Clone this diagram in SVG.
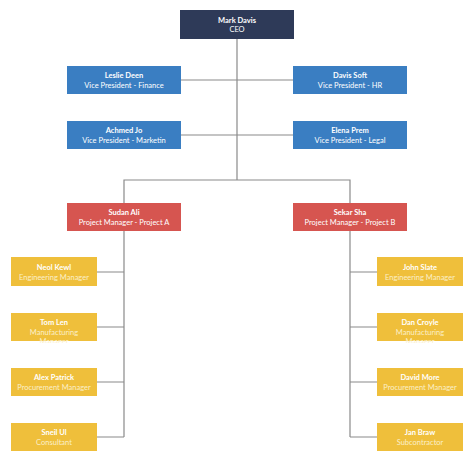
<svg xmlns="http://www.w3.org/2000/svg" width="474" height="462" viewBox="0 0 474 462">
<style>
text{font-family:Lato,"Liberation Sans",sans-serif;font-size:7.5px;text-anchor:middle;fill:#fff}
.n{font-weight:bold}
.y .t{fill:#fbefc9}
.ceo rect{fill:#2e3a58}
.vp rect{fill:#3a7ec2}
.pm rect{fill:#d65550}
.y rect{fill:#efbf3b}
#connectors path{fill:none;stroke:#8a8a8a;stroke-width:1.2}
</style>
<defs><clipPath id="c2"><rect x="0" y="300" width="474" height="43"/></clipPath></defs>
<rect width="474" height="462" fill="#fff"/>
<g id="connectors">
<path d="M237 39V180M181 80H293M181 135H293M124 203V180H350V203"/>
<path d="M124 231V437M97 272H124M97 327H124M97 382H124M97 437H124"/>
<path d="M350 231V437M350 272H377M350 327H377M350 382H377M350 437H377"/>
</g>
<g id="ceo" class="ceo"><rect x="180" y="10" width="114" height="29"/><text class="n" x="237" y="22.5">Mark Davis</text><text x="237" y="32">CEO</text></g>
<g id="vp1" class="vp"><rect x="67" y="66" width="114" height="28"/><text class="n" x="124" y="77.5">Leslie Deen</text><text x="124" y="87.5">Vice President - Finance</text></g>
<g id="vp2" class="vp"><rect x="293" y="66" width="114" height="28"/><text class="n" x="350" y="77.5">Davis Soft</text><text x="350" y="87.5">Vice President - HR</text></g>
<g id="vp3" class="vp"><rect x="67" y="121" width="114" height="28"/><text class="n" x="124" y="132.5">Achmed Jo</text><text x="124" y="142.5">Vice President - Marketin</text></g>
<g id="vp4" class="vp"><rect x="293" y="121" width="114" height="28"/><text class="n" x="350" y="132.5">Elena Prem</text><text x="350" y="142.5">Vice President - Legal</text></g>
<g id="pm1" class="pm"><rect x="67" y="203" width="114" height="28"/><text class="n" x="124" y="214.5">Sudan Ali</text><text x="124" y="224.5">Project Manager - Project A</text></g>
<g id="pm2" class="pm"><rect x="293" y="203" width="114" height="28"/><text class="n" x="350" y="214.5">Sekar Sha</text><text x="350" y="224.5">Project Manager - Project B</text></g>
<g id="l1" class="y"><rect x="11" y="257" width="86" height="29"/><text class="n" x="54" y="269.5">Neol Kewl</text><text class="t" x="54" y="279.5">Engineering Manager</text></g>
<g id="l2" class="y"><rect x="11" y="313" width="86" height="28"/><text class="n" x="54" y="325">Tom Len</text><text class="t" x="54" y="334.5">Manufacturing</text><text class="t" x="54" y="344" clip-path="url(#c2)">Manager</text></g>
<g id="l3" class="y"><rect x="11" y="368" width="86" height="28"/><text class="n" x="54" y="380">Alex Patrick</text><text class="t" x="54" y="390">Procurement Manager</text></g>
<g id="l4" class="y"><rect x="11" y="423" width="86" height="28"/><text class="n" x="54" y="435">Sneil Ul</text><text class="t" x="54" y="445">Consultant</text></g>
<g id="r1" class="y"><rect x="377" y="257" width="86" height="29"/><text class="n" x="420" y="269.5">John Slate</text><text class="t" x="420" y="279.5">Engineering Manager</text></g>
<g id="r2" class="y"><rect x="377" y="313" width="86" height="28"/><text class="n" x="420" y="325">Dan Croyle</text><text class="t" x="420" y="334.5">Manufacturing</text><text class="t" x="420" y="344" clip-path="url(#c2)">Manager</text></g>
<g id="r3" class="y"><rect x="377" y="368" width="86" height="28"/><text class="n" x="420" y="380">David More</text><text class="t" x="420" y="390">Procurement Manager</text></g>
<g id="r4" class="y"><rect x="377" y="423" width="86" height="28"/><text class="n" x="420" y="435">Jan Braw</text><text class="t" x="420" y="445">Subcontractor</text></g>
</svg>
